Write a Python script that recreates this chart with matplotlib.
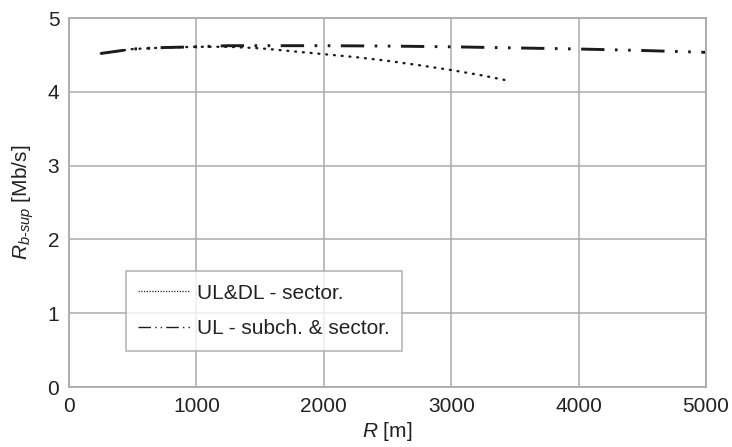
import matplotlib
matplotlib.use("Agg")
import matplotlib.pyplot as plt
from matplotlib.lines import Line2D

plt.rcParams['font.family'] = ['Liberation Sans', 'DejaVu Sans']
plt.rcParams['mathtext.fontset'] = 'custom'
plt.rcParams['mathtext.it'] = 'Liberation Sans:italic'
plt.rcParams['mathtext.rm'] = 'Liberation Sans'

# cell radius [m] vs. supported bit rate [Mb/s]
r_sector = [250, 500, 750, 1000, 1250, 1500, 1750, 2000, 2250, 2500, 2750, 3000, 3250, 3450]
rate_sector = [4.52, 4.58, 4.60, 4.61, 4.61, 4.59, 4.55, 4.51, 4.47, 4.42, 4.36, 4.295, 4.22, 4.15]

r_subch = [250, 500, 750, 1000, 1250, 1500, 2000, 2500, 3000, 3500, 4000, 4500, 5000]
rate_subch = [4.52, 4.58, 4.60, 4.61, 4.625, 4.625, 4.625, 4.62, 4.61, 4.595, 4.58, 4.56, 4.535]

labels = ['UL&DL - sector.', 'UL - subch. & sector.']
grey = '#ababab'
ink = '#1c1c1c'

fig = plt.figure(figsize=(7.32, 4.47), dpi=100)
ax = fig.add_axes([0.0943, 0.1342, 0.8702, 0.8255])

ax.plot(r_sector, rate_sector, color=ink, lw=1.7,
        dashes=(0.4, 2.9), dash_capstyle='round')
ax.plot(r_subch, rate_subch, color=ink, lw=2.1,
        dashes=(8.0, 3.6, 0.9, 3.6, 0.9, 3.6), dash_capstyle='butt')

ax.set_xlim(0, 5000)
ax.set_ylim(0, 5)
ax.set_xticks(range(0, 5001, 1000))
ax.set_yticks(range(0, 6))
ax.tick_params(length=0, labelsize=15, colors='#222222', pad=7)
ax.grid(True, color=grey, lw=1.1)
for s in ax.spines.values():
    s.set_color(grey)
    s.set_linewidth(1.3)

ax.set_xlabel(r'$R$ [m]', fontsize=15, color='#222222', labelpad=3)
ax.set_ylabel(r'$R_{b\text{-}sup}$ [Mb/s]', fontsize=15, color='#222222', labelpad=8)

# thinner proxy lines for the legend
handles = [
    Line2D([], [], color=ink, lw=0.9, dashes=(1, 1.2)),
    Line2D([], [], color=ink, lw=1.0, dashes=(9, 3, 1, 3, 1, 3)),
]
leg = ax.legend(handles, labels, loc='lower left', bbox_to_anchor=(0.089, 0.098),
                fontsize=15, frameon=True, fancybox=False, edgecolor=grey,
                handlelength=2.5, handletextpad=0.3, labelspacing=0.8,
                borderpad=0.6, borderaxespad=0)
leg.get_frame().set_linewidth(1.3)
for t in leg.get_texts():
    t.set_color('#222222')

fig.savefig('out.png', dpi=100)
